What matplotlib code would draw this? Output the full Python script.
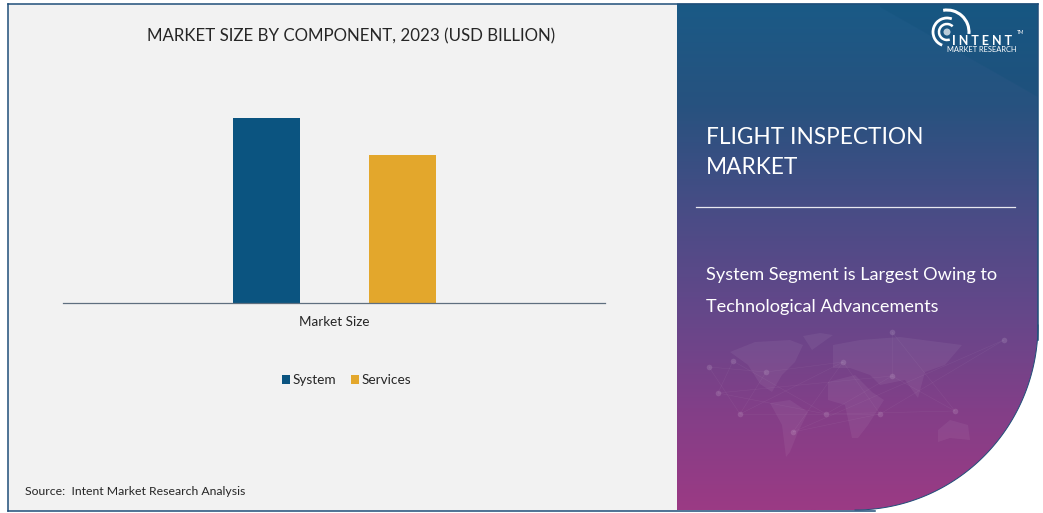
import numpy as np
import matplotlib
matplotlib.use("Agg")
import matplotlib.pyplot as plt
from matplotlib.colors import LinearSegmentedColormap
from matplotlib.patches import Rectangle, PathPatch, Arc, Polygon, Circle
from matplotlib.path import Path

categories = ["Market Size"]
series_names = ["System", "Services"]
series_values = [5.0, 4.0]
series_colors = ["#0b5480", "#e3a72c"]

W, H = 1043, 513
plt.rcParams["font.family"] = ["Lato", "DejaVu Sans"]
fig = plt.figure(figsize=(W / 100, H / 100), dpi=100, facecolor="white")

bg = fig.add_axes([0, 0, 1, 1])
bg.set_xlim(0, W)
bg.set_ylim(H, 0)
bg.axis("off")

bg.add_patch(Rectangle((7.5, 3.5), 670, 507, fc="#f2f2f2", ec="none", zorder=1))

# right panel with curved corner
t = np.linspace(0, np.pi / 2, 80)
cx, cy, rx, ry = 855, 325, 183, 185
curve = np.c_[cx + rx * np.cos(t), cy + ry * np.sin(t)]
verts = np.vstack([[(677, 3.5), (1038, 3.5)], curve, [(677, 510), (677, 3.5)]])
panel_path = Path(verts)
cmap = LinearSegmentedColormap.from_list("panel", [
    (0, "#1a5a86"), (0.2, "#27527f"), (0.42, "#4a4c86"),
    (0.62, "#66478a"), (0.8, "#823f88"), (1, "#9b3a84")])
grad = np.linspace(0, 1, 256).reshape(-1, 1)
im = bg.imshow(grad, extent=(677, 1039, 510, 3), cmap=cmap, aspect="auto", zorder=2)
bg.set_xlim(0, W)
bg.set_ylim(H, 0)
clip = PathPatch(panel_path, transform=bg.transData, fc="none", ec="none")
bg.add_patch(clip)
im.set_clip_path(clip)

# subtle swoosh below the top-right arc
sw_t = np.linspace(0, np.pi / 2, 60)
sw_curve = np.c_[1038 - 158 * np.cos(sw_t), 97 - 90 * np.sin(sw_t)[::-1]]
sw = np.vstack([sw_curve, [(1038, 3.5)], [(880, 3.5)]])
bg.add_patch(Polygon(sw, closed=True, fc="#0e4f78", ec="none", alpha=0.25, zorder=3))

# faint world map
land = [
    [(730, 352), (755, 342), (790, 340), (803, 345), (795, 362), (782, 375), (772, 392), (760, 384), (748, 365)],
    [(770, 403), (790, 400), (808, 412), (798, 432), (790, 452), (786, 457), (782, 425)],
    [(833, 345), (860, 340), (900, 337), (962, 345), (945, 365), (925, 372), (918, 398), (905, 380), (880, 385), (870, 375), (850, 368), (833, 368)],
    [(828, 382), (855, 375), (872, 392), (884, 400), (868, 425), (858, 438), (852, 438), (845, 405), (828, 400)],
    [(938, 430), (950, 420), (968, 425), (970, 440), (950, 438), (938, 442)],
    [(803, 336), (820, 333), (833, 335), (812, 350)],
]
for poly in land:
    bg.add_patch(Polygon(poly, closed=True, fc="white", ec="none", alpha=0.055, zorder=3))
nodes_x = [709, 733, 766, 718, 740, 826, 843, 892, 880, 955, 793, 892, 1004]
nodes_y = [367, 361, 372, 393, 414, 414, 362, 376, 414, 411, 432, 332, 340]
scat_lines = []
for i in range(len(nodes_x)):
    for j in (i + 2, i + 4):
        if j < len(nodes_x):
            scat_lines += bg.plot([nodes_x[i], nodes_x[j]], [nodes_y[i], nodes_y[j]], color="white", lw=0.4, alpha=0.06, zorder=3)
dots = bg.scatter(nodes_x, nodes_y, s=16, color="white", alpha=0.13, lw=0, zorder=3)
for a in scat_lines + [dots]:
    a.set_clip_path(clip)

# border
bd = "#1f4e79"
bg.plot([1038, 1038], [3.5, 340], color=bd, lw=1.1, zorder=5)
bg.plot([7.5, 7.5], [3.5, 510.5], color=bd, lw=1.1, zorder=5)
bg.plot([7.5, 1038], [3.5, 3.5], color=bd, lw=1.1, zorder=5)
bg.plot([7.5, 875], [510.5, 510.5], color=bd, lw=1.1, zorder=5)
bg.plot(curve[:, 0], curve[:, 1], color=bd, lw=0.7, zorder=5)

# panel text
bg.text(706, 137, "FLIGHT INSPECTION", color="white", fontsize=16.3, va="center", ha="left", zorder=6)
bg.text(706, 168, "MARKET", color="white", fontsize=16.3, va="center", ha="left", zorder=6)
bg.plot([696, 1015], [206.5, 206.5], color="#e8e8f0", lw=0.9, zorder=6)
bg.text(706, 275, "System Segment is Largest Owing to", color="white", fontsize=13.05, va="center", ha="left", zorder=6)
bg.text(706, 307, "Technological Advancements", color="white", fontsize=13.05, va="center", ha="left", zorder=6)

# logo
lc = (947, 32)
for r, th1, th2, lw in [(8, 70, 315, 1.8), (14, 110, 290, 2.0), (22, 260, 365, 2.2)]:
    bg.add_patch(Arc(lc, 2 * r, 2 * r, theta1=th1, theta2=th2, color="white", lw=lw, zorder=6))
bg.add_patch(Circle(lc, 3.5, fc="white", ec="none", alpha=0.7, zorder=6))
bg.text(981.5, 41, "I N T E N T", color="white", fontsize=9, fontweight="bold", ha="center", va="center", zorder=6)
bg.text(1021, 33, "TM", color="white", fontsize=3.5, ha="center", va="center", zorder=6)
bg.text(981.5, 50, "MARKET RESEARCH", color="white", fontsize=5.4, ha="center", va="center", zorder=6)

# chart axes
ax = fig.add_axes([63 / W, 1 - 303 / H, 542 / W, 200 / H])
ax.set_facecolor("none")
ax.set_xlim(-0.5, 0.5)
ax.set_ylim(0, 200 / 37)
offsets = [-0.1245, 0.1265]
for name, val, col, off in zip(series_names, series_values, series_colors, offsets):
    ax.bar(off, val, width=0.125, color=col, label=name)
ax.set_xticks([0])
ax.set_xticklabels(categories, fontsize=9.7, color="#262626")
ax.tick_params(axis="x", length=0, pad=9.5)
ax.set_yticks([])
for s in ["top", "left", "right"]:
    ax.spines[s].set_visible(False)
ax.spines["bottom"].set_color("#5f6f7f")
ax.spines["bottom"].set_linewidth(0.9)

bg.text(351, 36, "MARKET SIZE BY COMPONENT, 2023 (USD BILLION)", fontsize=12.2, color="#262626", ha="center", va="center", zorder=6)
ax.legend(loc="center", bbox_to_anchor=(346.5 / W, 1 - 380.5 / H), bbox_transform=fig.transFigure,
          ncol=2, frameon=False, fontsize=9.8, handlelength=0.6, handleheight=0.6, handletextpad=0.2,
          columnspacing=1.05, labelcolor="#262626")
bg.text(25, 491.5, "Source:  Intent Market Research Analysis", fontsize=8.8, color="#262626", ha="left", va="center", zorder=6)

fig.savefig("out.png", dpi=100)
